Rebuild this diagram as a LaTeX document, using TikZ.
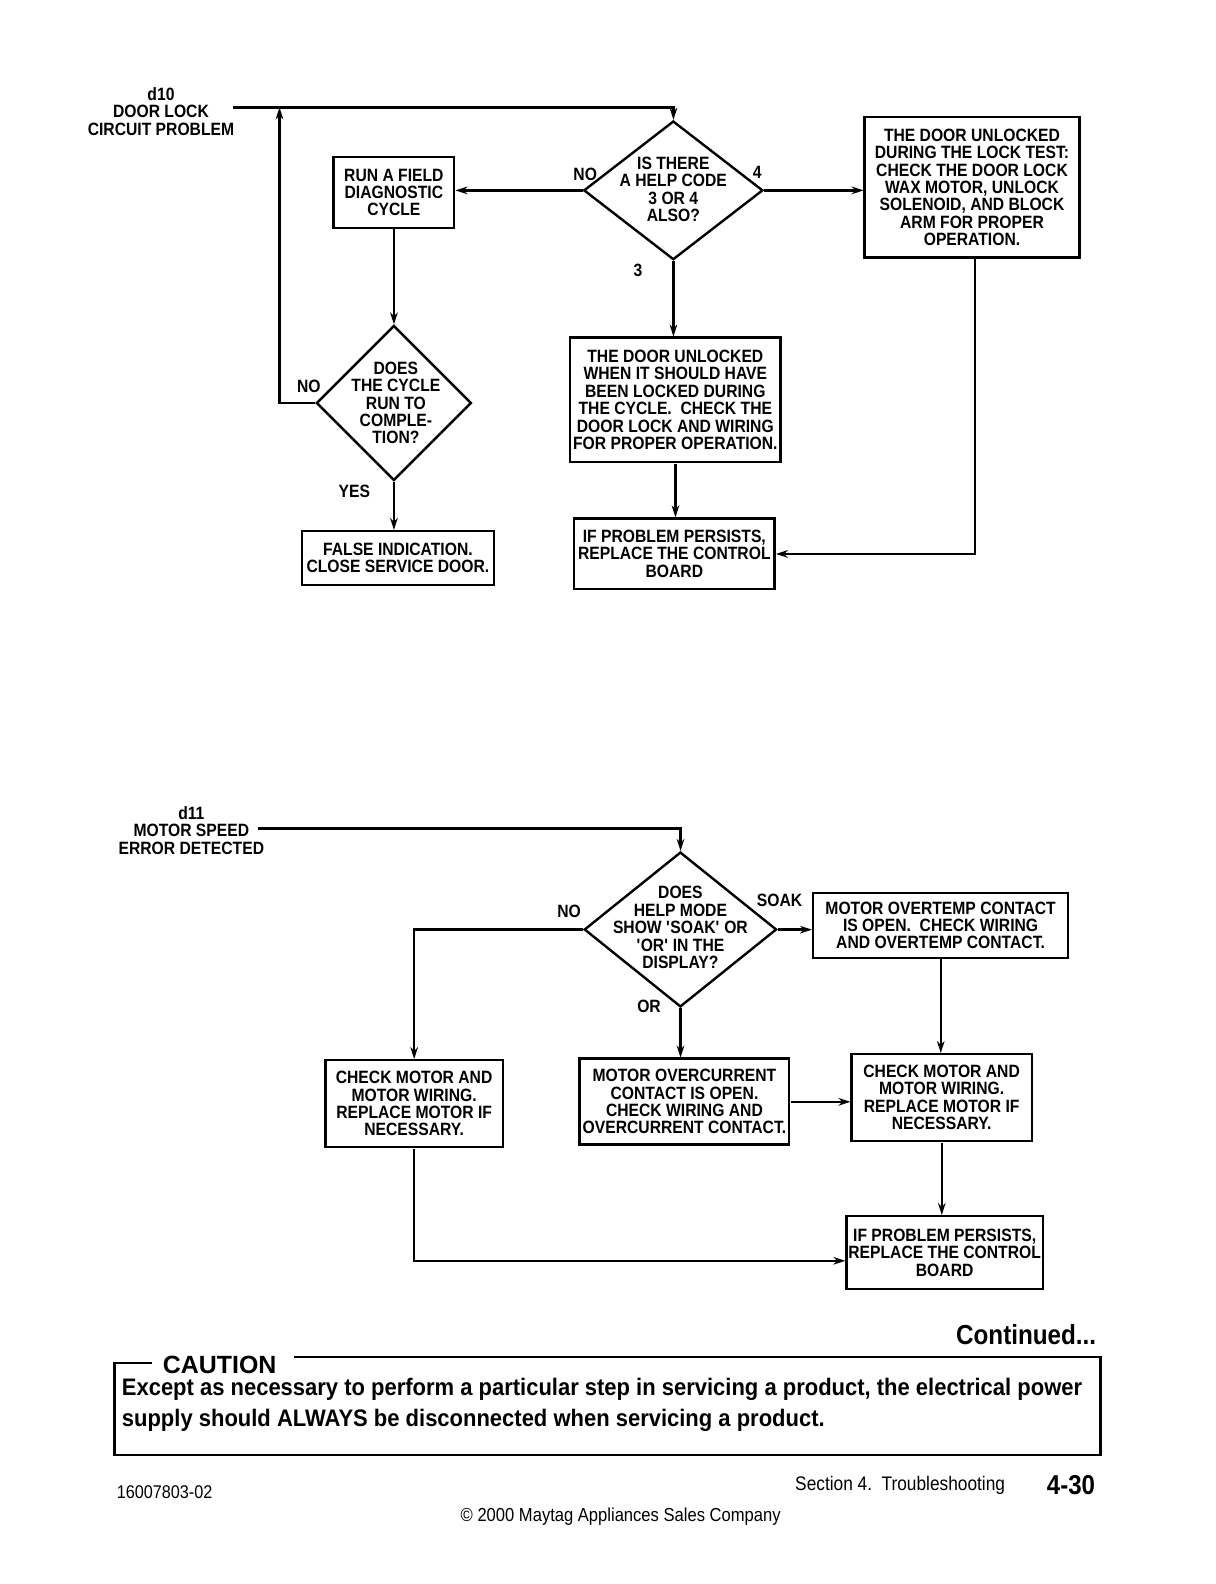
\documentclass[tikz,border=0pt]{standalone}
\usepackage{fontspec}
\setmainfont{Liberation Sans}
\newfontfamily\cf[FakeStretch=0.88]{Liberation Sans}
\newfontfamily\cfw[FakeStretch=0.92]{Liberation Sans}
\usetikzlibrary{shapes.geometric,arrows.meta}
\begin{document}
\begin{tikzpicture}[x=0.5pt,y=-0.5pt,scale=1.0125,transform shape,
  box/.style={draw,line width=1.2pt,inner sep=0pt,align=center,font=\cf\bfseries\fontsize{8.8}{8.6}\selectfont},
  dia/.style={draw,line width=1.2pt,diamond,inner sep=0pt},
  txt/.style={align=center,inner sep=0pt,font=\cf\bfseries\fontsize{8.8}{8.6}\selectfont},
  arr/.style={line width=1.2pt,-{Stealth[length=6pt,width=3.8pt]}},
  ln/.style={line width=1.2pt}]
\fill[white] (0,0) rectangle (1200,1564.44);
\useasboundingbox (0,0) rectangle (1200,1564.44);

% ---------- top flowchart ----------
\node[txt] (start1) at (159,110) {d10\\DOOR LOCK\\CIRCUIT PROBLEM};
\coordinate (s1) at (230,106);
\coordinate (looptop) at (276,106);

\node[dia,minimum width=88.5pt,minimum height=68.5pt] (d1) at (665,188) {};
\node[txt] (d1t) at (665,187) {IS THERE\\A HELP CODE\\3 OR 4\\ALSO?};
\node[box,minimum width=59.5pt,minimum height=35pt] (runfield) at (389,190) {RUN A FIELD\\DIAGNOSTIC\\CYCLE};
\node[box,minimum width=106pt,minimum height=69.5pt] (locktest) at (960,185) {THE DOOR UNLOCKED\\DURING THE LOCK TEST:\\CHECK THE DOOR LOCK\\WAX MOTOR, UNLOCK\\SOLENOID, AND BLOCK\\ARM FOR PROPER\\OPERATION.};
\node[dia,minimum width=76.5pt,minimum height=76.5pt] (d2) at (389,398) {};
\node[txt] (d2t) at (391,398) {DOES\\THE CYCLE\\RUN TO\\COMPLE-\\TION?};
\node[box,minimum width=95pt,minimum height=26.5pt] (falseind) at (393,551) {FALSE INDICATION.\\CLOSE SERVICE DOOR.};
\node[box,minimum width=104pt,minimum height=61.5pt] (unlocked) at (667,395) {THE DOOR UNLOCKED\\WHEN IT SHOULD HAVE\\BEEN LOCKED DURING\\THE CYCLE.\ \ CHECK THE\\DOOR LOCK AND WIRING\\FOR PROPER OPERATION.};
\node[box,minimum width=99pt,minimum height=35pt] (persist1) at (666,547) {IF PROBLEM PERSISTS,\\REPLACE THE CONTROL\\BOARD};

\node[txt] (l1no) at (578,172) {NO};
\node[txt] (l1four) at (748,170) {4};
\node[txt] (l1three) at (630,267) {3};
\node[txt] (l2no) at (305,382) {NO};
\node[txt] (l2yes) at (350,485) {YES};

\draw[arr] (s1) -| (d1.north);
\draw[arr] (d2.west) -| (looptop);
\draw[arr] (d1.west) -- (d1.west -| runfield.east);
\draw[arr] (d1.east) -- (d1.east -| locktest.west);
\draw[arr] (runfield.south) -- (runfield.south |- d2.north);
\draw[arr] (d2.south) -- (d2.south |- falseind.north);
\draw[arr] (d1.south) -- (d1.south |- unlocked.north);
\draw[arr] (unlocked.south) -- (unlocked.south |- persist1.north);
\draw[arr] ([xshift=1.5pt]locktest.south) |- (persist1.east);

% ---------- bottom flowchart ----------
\node[txt] (start2) at (189,820) {d11\\MOTOR SPEED\\ERROR DETECTED};
\coordinate (s2) at (255,818);

\node[dia,minimum width=95pt,minimum height=76.5pt] (d3) at (672,918) {};
\node[txt] (d3t) at (672,916) {DOES\\HELP MODE\\SHOW \textquotesingle SOAK\textquotesingle\ OR\\\textquotesingle OR\textquotesingle\ IN THE\\DISPLAY?};
\node[box,minimum width=126pt,minimum height=32pt] (overtemp) at (929,914) {MOTOR OVERTEMP CONTACT\\IS OPEN.\ \ CHECK WIRING\\AND OVERTEMP CONTACT.};
\node[box,minimum width=87.5pt,minimum height=43pt] (checkl) at (409,1090) {CHECK MOTOR AND\\MOTOR WIRING.\\REPLACE MOTOR IF\\NECESSARY.};
\node[box,minimum width=103.5pt,minimum height=42.5pt] (overcur) at (676,1088) {MOTOR OVERCURRENT\\CONTACT IS OPEN.\\CHECK WIRING AND\\OVERCURRENT CONTACT.};
\node[box,minimum width=89pt,minimum height=43pt] (checkr) at (930,1084) {CHECK MOTOR AND\\MOTOR WIRING.\\REPLACE MOTOR IF\\NECESSARY.};
\node[box,minimum width=97pt,minimum height=36pt] (persist2) at (933,1237) {IF PROBLEM PERSISTS,\\REPLACE THE CONTROL\\BOARD};

\node[txt] (l3no) at (562,900) {NO};
\node[txt] (l3soak) at (770,889) {SOAK};
\node[txt] (l3or) at (641,994) {OR};

\draw[arr] (s2) -| (d3.north);
\draw[arr] (d3.west) -| (checkl.north);
\draw[arr] (d3.east) -- (d3.east -| overtemp.west);
\draw[arr] (d3.south) -- (d3.south |- overcur.north);
\draw[arr] (overtemp.south) -- (overtemp.south |- checkr.north);
\draw[arr] (overcur.east) -- (overcur.east -| checkr.west);
\draw[arr] (checkr.south) -- (checkr.south |- persist2.north);
\draw[arr] (checkl.south) |- ([yshift=-4pt]persist2.west);

% ---------- caution & footer ----------
\node[anchor=east,inner sep=0pt,font=\cf\bfseries\fontsize{13.6}{15}\selectfont] (cont) at (1083,1318) {Continued...};
\draw[ln] (150,1346) -- (113,1346) -- (113,1437) -- (1087,1437) -- (1087,1340) -- (290,1340);
\node[inner sep=0pt,font=\bfseries\fontsize{12.3}{14}\selectfont] (caution) at (217,1348) {CAUTION};
\node[anchor=west,inner sep=0pt,font=\cfw\bfseries\fontsize{11.8}{13}\selectfont] (ctext1) at (120,1372) {Except as necessary to perform a particular step in servicing a product, the electrical power};
\node[anchor=west,inner sep=0pt,font=\cfw\bfseries\fontsize{11.8}{13}\selectfont] (ctext2) at (120,1403) {supply should ALWAYS be disconnected when servicing a product.};

\node[anchor=west,inner sep=0pt,font=\cf\fontsize{9.1}{10}\selectfont] (docno) at (115,1474) {16007803-02};
\node[anchor=west,inner sep=0pt,font=\cf\fontsize{9.7}{10}\selectfont] (section) at (785,1467) {Section 4.\ \ Troubleshooting};
\node[anchor=east,inner sep=0pt,font=\cf\bfseries\fontsize{13.5}{14}\selectfont] (pageno) at (1082,1467) {4-30};
\node[inner sep=0pt,font=\cf\fontsize{9.3}{10}\selectfont] (copy) at (613,1498) {\char"00A9\ 2000 Maytag Appliances Sales Company};
\end{tikzpicture}
\end{document}
